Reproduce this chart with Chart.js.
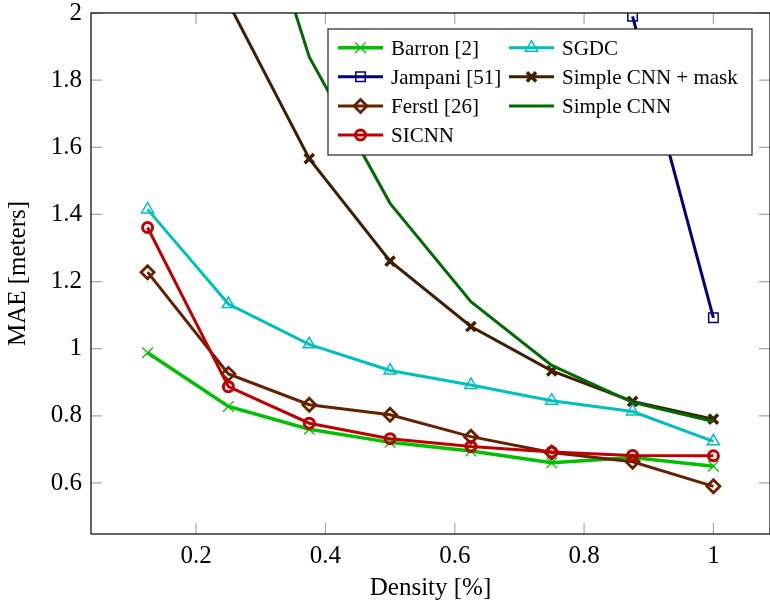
<!DOCTYPE html>
<html>
<head>
<meta charset="utf-8">
<script src="https://cdn.jsdelivr.net/npm/chart.js@4.4.1/dist/chart.umd.min.js"></script>
<style>
  html, body { margin: 0; padding: 0; background: #fff; overflow: hidden; }
  canvas { display: block; }
</style>
</head>
<body>
<canvas id="chartMae" width="780" height="606"></canvas>
<script>
// densidade (%) x erro médio, uma série por método
const density = [0.125, 0.25, 0.375, 0.5, 0.625, 0.75, 0.875, 1];
const barron = [0.988, 0.828, 0.760, 0.721, 0.695, 0.660, 0.676, 0.650];
const sgdc = [1.415, 1.133, 1.013, 0.935, 0.892, 0.845, 0.813, 0.724];
const jampani = [null, null, null, null, null, null, 1.99, 1.092];
const simpleCnnMask = [null, 2.03, 1.566, 1.261, 1.066, 0.934, 0.843, 0.790];
const ferstl = [1.228, 0.925, 0.833, 0.803, 0.738, 0.691, 0.663, 0.590];
const simpleCnn = [null, 2.63, 1.869, 1.433, 1.140, 0.950, 0.840, 0.783];
const sicnn = [1.361, 0.887, 0.778, 0.732, 0.709, 0.692, 0.682, 0.681];

const xTicks = [0.2, 0.4, 0.6, 0.8, 1];
const yTicks = [0.6, 0.8, 1, 1.2, 1.4, 1.6, 1.8, 2];

const FONT = 'Liberation Serif';

const pts = vals => density.map((x, i) => ({ x, y: vals[i] }));

function serie(label, vals, color, style, radius, pointBorder, lineWidth) {
  return {
    label,
    data: pts(vals),
    borderColor: color,
    backgroundColor: 'rgba(0,0,0,0)',
    borderWidth: lineWidth || 3,
    pointStyle: style || false,
    pointRadius: style ? radius : 0,
    pointBorderWidth: pointBorder,
    pointBorderColor: color,
    pointBackgroundColor: 'rgba(0,0,0,0)',
    tension: 0,
    clip: 0
  };
}

// ordem das linhas segue a legenda (linha a linha, duas colunas)
const datasets = [
  serie('Barron [2]', barron, '#00c000', 'crossRot', 7.5, 1.3, 3.5),
  serie('SGDC', sgdc, '#00bfbf', 'triangle', 7, 1.5),
  serie('Jampani [51]', jampani, '#00007f', 'rect', 6.7, 1.5),
  serie('Simple CNN + mask', simpleCnnMask, '#3f1f00', 'crossRot', 6.5, 3.5),
  serie('Ferstl [26]', ferstl, '#662200', 'rectRot', 6.5, 2.8),
  serie('Simple CNN', simpleCnn, '#006b00', null, 0, 0),
  serie('SICNN', sicnn, '#bf0000', 'circle', 5, 3)
];
// as últimas séries ficam por cima
datasets.forEach((ds, i) => { ds.order = datasets.length - i; });

const frameTicks = {
  id: 'frameTicks',
  beforeDatasetsDraw(chart) {
    const { ctx, chartArea: a, scales: { x, y } } = chart;
    const len = 11;
    ctx.save();
    ctx.strokeStyle = '#a8a8a8';
    ctx.lineWidth = 1.2;
    ctx.beginPath();
    xTicks.forEach(v => {
      const px = x.getPixelForValue(v);
      ctx.moveTo(px, a.bottom); ctx.lineTo(px, a.bottom - len);
      ctx.moveTo(px, a.top); ctx.lineTo(px, a.top + len);
    });
    yTicks.forEach(v => {
      const py = y.getPixelForValue(v);
      ctx.moveTo(a.left, py); ctx.lineTo(a.left + len, py);
      ctx.moveTo(a.right, py); ctx.lineTo(a.right - len, py);
    });
    ctx.stroke();
    ctx.restore();
  },
  afterDatasetsDraw(chart) {
    const { ctx, chartArea: a } = chart;
    ctx.save();
    ctx.strokeStyle = '#111';
    ctx.lineWidth = 1.3;
    ctx.strokeRect(a.left, a.top, a.right - a.left, a.bottom - a.top);
    ctx.restore();
  }
};

const boxLegend = {
  id: 'boxLegend',
  afterDraw(chart, args, opts) {
    const { ctx } = chart;
    ctx.save();
    ctx.fillStyle = '#fff';
    ctx.fillRect(opts.x, opts.y, opts.w, opts.h);
    ctx.strokeStyle = '#222';
    ctx.lineWidth = 1.2;
    ctx.strokeRect(opts.x, opts.y, opts.w, opts.h);
    ctx.font = opts.fontSize + 'px "' + FONT + '"';
    ctx.textBaseline = 'alphabetic';
    chart.data.datasets.forEach((ds, i) => {
      const col = i % 2, row = Math.floor(i / 2);
      const x0 = opts.colX[col];
      const yc = opts.y + opts.firstRow + row * opts.rowH;
      ctx.strokeStyle = ds.borderColor;
      ctx.lineWidth = ds.borderWidth;
      ctx.beginPath();
      ctx.moveTo(x0, yc);
      ctx.lineTo(x0 + opts.sampleW, yc);
      ctx.stroke();
      if (ds.pointRadius > 0) {
        ctx.lineWidth = ds.pointBorderWidth;
        ctx.fillStyle = 'rgba(0,0,0,0)';
        Chart.helpers.drawPoint(ctx, {
          pointStyle: ds.pointStyle, rotation: 0,
          radius: ds.pointRadius, borderWidth: ds.pointBorderWidth
        }, x0 + opts.sampleW / 2, yc);
      }
      ctx.fillStyle = '#000';
      ctx.fillText(ds.label, x0 + opts.sampleW + opts.gap, yc + opts.fontSize * 0.33);
    });
    ctx.restore();
  }
};

new Chart(document.getElementById('chartMae'), {
  type: 'line',
  data: { datasets },
  plugins: [frameTicks, boxLegend],
  options: {
    responsive: false,
    animation: false,
    layout: { padding: { top: 13, right: 7, left: 0, bottom: 0 } },
    plugins: {
      legend: { display: false },
      tooltip: { enabled: false },
      boxLegend: {
        x: 328, y: 29, w: 424, h: 126,
        colX: [338, 509], firstRow: 18.7, rowH: 29.1,
        sampleW: 45, gap: 8, fontSize: 21
      }
    },
    scales: {
      x: {
        type: 'linear',
        min: 0.0375,
        max: 1.0875,
        afterBuildTicks: s => { s.ticks = xTicks.map(value => ({ value })); },
        afterFit: s => { s.height = 72; s.paddingLeft = 0; s.paddingRight = 0; },
        grid: { display: false, drawTicks: false },
        border: { display: false },
        ticks: {
          padding: 7,
          color: '#000',
          font: { family: FONT, size: 25 },
          maxRotation: 0,
          callback: v => String(v)
        },
        title: {
          display: true,
          text: 'Density [%]',
          color: '#000',
          font: { family: FONT, size: 25 },
          padding: { top: 0, bottom: 3 }
        }
      },
      y: {
        min: 0.448,
        max: 2,
        afterBuildTicks: s => { s.ticks = yTicks.map(value => ({ value })); },
        afterFit: s => { s.width = 91; s.paddingTop = 0; s.paddingBottom = 0; },
        grid: { display: false, drawTicks: false },
        border: { display: false },
        ticks: {
          padding: 9,
          color: '#000',
          font: { family: FONT, size: 25 },
          callback: v => String(v)
        },
        title: {
          display: true,
          text: 'MAE [meters]',
          color: '#000',
          font: { family: FONT, size: 25 },
          padding: { top: 3, bottom: 0 }
        }
      }
    }
  }
});
</script>
</body>
</html>
